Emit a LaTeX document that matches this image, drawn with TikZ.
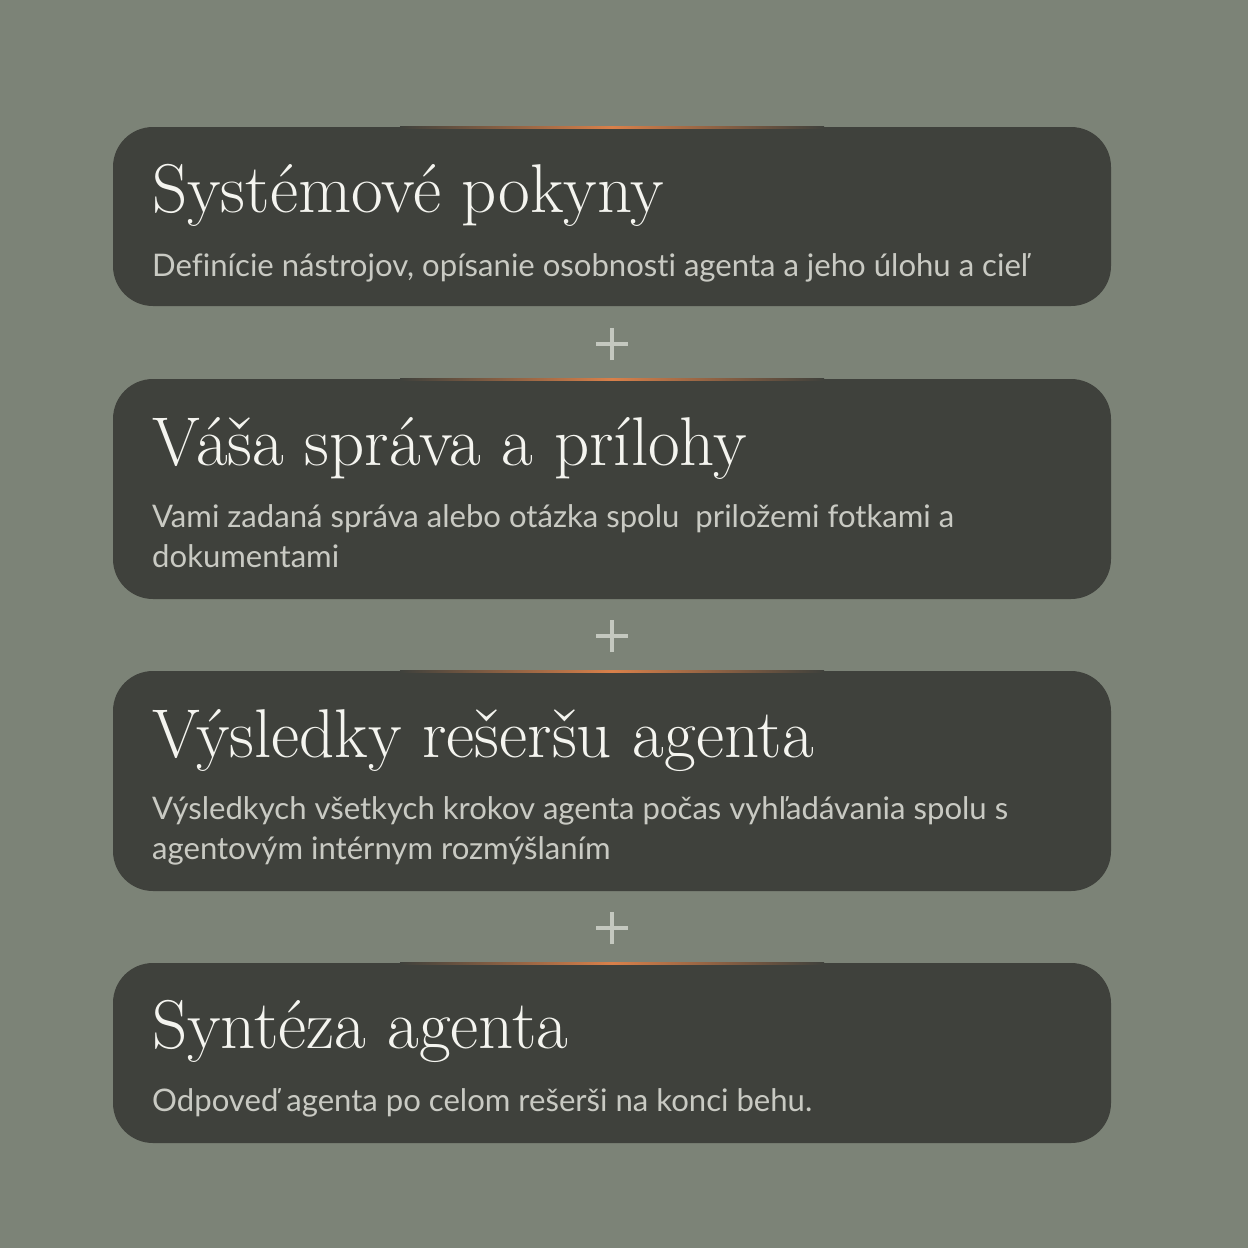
\documentclass[tikz,border=0pt]{standalone}
\usepackage{fontspec}
\newfontfamily\subfont[Ligatures=NoCommon]{Lato}
\definecolor{bgc}{HTML}{7C8377}
\definecolor{boxc}{HTML}{3F413C}
\definecolor{titlec}{HTML}{F4F4EF}
\definecolor{subc}{HTML}{C9CAC3}
\definecolor{plusc}{HTML}{C4C8BF}
\definecolor{glow}{HTML}{D9804A}
\tikzset{
  card/.style={fill=boxc, rounded corners=40pt},
  ttl/.style={anchor=base west, inner sep=0pt, text=titlec, font=\fontsize{69}{69}\selectfont},
  sub/.style={anchor=base west, inner sep=0pt, text=subc, align=left, font=\subfont\fontsize{31.1}{40}\selectfont},
  plusmark/.style={draw=plusc, line width=3.8pt}
}
\begin{document}
\begin{tikzpicture}[x=1pt,y=-1pt]
\fill[bgc] (0,0) rectangle (1248,1248);
\useasboundingbox (0,0) rectangle (1248,1248);
% cards
\foreach \t/\b in {127/306, 379/599, 671/891, 963/1143}{
  \fill[card] (113,\t) rectangle (1111,\b);
  \shade[left color=boxc, right color=boxc, middle color=glow] (400,\t-0.5) rectangle (824,\t+1.5);
}
% texts (base anchor of a two-line node is its last line)
\node[ttl] (t1) at (152,212) {Systémové pokyny};
\node[sub] (s1) at (152,276) {Definície nástrojov, opísanie osobnosti agenta a jeho úlohu a cieľ};
\node[ttl] (t2) at (152,465) {Váša správa a prílohy};
\node[sub] (s2) at (152,567) {Vami zadaná správa alebo otázka spolu\ \ priložemi fotkami a\\dokumentami};
\node[ttl] (t3) at (152,757) {Výsledky rešeršu agenta};
\node[sub] (s3) at (152,859) {Výsledkych všetkych krokov agenta počas vyhľadávania spolu s\\agentovým intérnym rozmýšlaním};
\node[ttl] (t4) at (152,1048) {Syntéza agenta};
\node[sub] (s4) at (152,1111) {Odpoveď agenta po celom rešerši na konci behu.};
% plus signs
\foreach \y [count=\i] in {344,636,928}{
  \coordinate (p\i) at (612,\y);
  \draw[plusmark] ([xshift=-16pt]p\i) -- ([xshift=16pt]p\i);
  \draw[plusmark] ([yshift=-16pt]p\i) -- ([yshift=16pt]p\i);
}
\end{tikzpicture}
\end{document}
